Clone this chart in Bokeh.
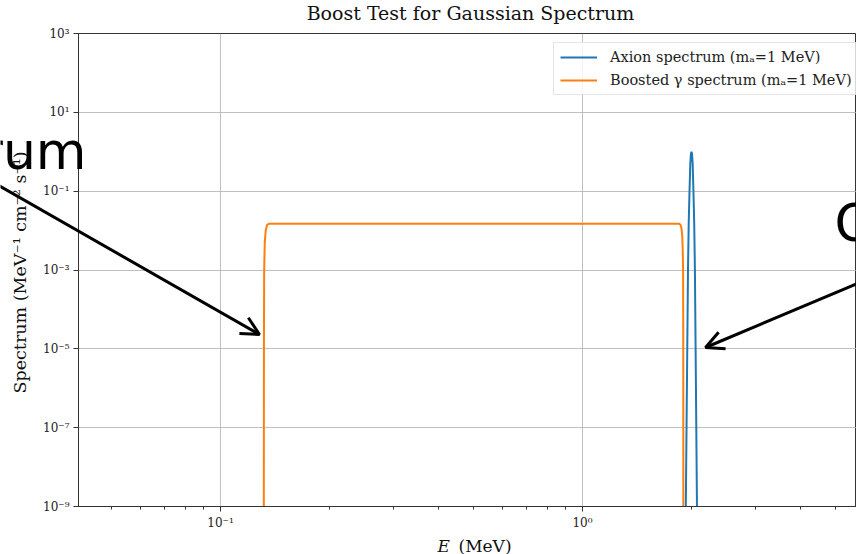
import math
from bokeh.plotting import figure
from bokeh.layouts import column
from bokeh.models import (Range1d, FixedTicker, CustomJSTickFormatter, Label, Arrow,
                          OpenHead, Legend, LegendItem)
from bokeh.embed import file_html
from bokeh.resources import INLINE

# ---------------- data ----------------
axion_E = [1.918, 1.929, 1.938, 1.947, 1.956, 1.965, 1.975, 1.985, 1.993, 2.000,
           2.007, 2.015, 2.025, 2.035, 2.044, 2.053, 2.062, 2.071, 2.082]
axion_S = [1e-12, 1e-9, 1e-7, 1e-5, 1e-3, 1.5e-2, 1e-1, 5e-1, 9e-1, 1.0,
           9e-1, 5e-1, 1e-1, 1.5e-2, 1e-3, 1e-5, 1e-7, 1e-9, 1e-12]

boost_E = [0.1315, 0.1317, 0.1318, 0.1320, 0.1325, 0.1333, 0.1345, 0.1360,
           0.2, 0.5, 1.0, 1.5, 1.850, 1.865, 1.875, 1.885, 1.892, 1.896, 1.898, 1.899, 1.900]
boost_S = [1e-12, 1e-9, 1e-5, 1e-3, 5e-3, 1.0e-2, 1.4e-2, 0.0148,
           0.0148, 0.0148, 0.0148, 0.0148, 0.0148, 0.0140, 0.0120, 0.0080, 3e-3, 1e-3, 1e-5, 1e-9, 1e-12]

x_ticks = [0.1, 1.0]
x_tick_labels = ["10⁻¹", "10⁰"]
x_minor = [0.05, 0.06, 0.07, 0.08, 0.09, 0.2, 0.3, 0.4, 0.5, 0.6, 0.7, 0.8, 0.9, 2, 3, 4, 5]
y_ticks = [1e-9, 1e-7, 1e-5, 1e-3, 1e-1, 1e1, 1e3]
y_tick_labels = ["10⁻⁹", "10⁻⁷", "10⁻⁵", "10⁻³", "10⁻¹", "10¹", "10³"]

x_lim = [0.04052, 5.713]
y_lim = [1e-9, 1e3]

title_text = "Boost Test for Gaussian Spectrum"
xlabel_var = "E"
xlabel_unit = "(MeV)"
ylabel_text = "Spectrum (MeV⁻¹ cm⁻² s⁻¹)"
legend_labels = ["Axion spectrum (mₐ=1 MeV)", "Boosted γ spectrum (mₐ=1 MeV)"]
left_text = "rum"
right_text = "O"

SERIF = "DejaVu Serif"
W, H = 856, 554

# ---------------- main plot ----------------
p = figure(width=W, height=H, x_axis_type="log", y_axis_type="log",
           x_range=Range1d(*x_lim), y_range=Range1d(*y_lim),
           output_backend="svg", toolbar_location=None,
           min_border_left=78, min_border_right=0, min_border_top=33, min_border_bottom=48)
p.frame_align = False
p.background_fill_color = "white"
p.border_fill_color = "white"
p.outline_line_color = "#333333"
p.outline_line_width = 1

def fmt(tvals, tlabels):
    return CustomJSTickFormatter(args=dict(tv=tvals, tl=tlabels), code="""
        for (let i = 0; i < tv.length; i++) {
            if (Math.abs(Math.log10(tv[i]) - Math.log10(tick)) < 1e-6) return tl[i];
        }
        return "";
    """)

p.xaxis.ticker = FixedTicker(ticks=x_ticks, minor_ticks=x_minor)
p.yaxis.ticker = FixedTicker(ticks=y_ticks, minor_ticks=[])
p.xaxis.formatter = fmt(x_ticks, x_tick_labels)
p.yaxis.formatter = fmt(y_ticks, y_tick_labels)

for ax in (p.xaxis[0], p.yaxis[0]):
    ax.axis_line_color = "#333333"
    ax.axis_line_width = 1
    ax.major_tick_line_color = "#333333"
    ax.minor_tick_line_color = "#333333"
    ax.major_tick_in = 0
    ax.major_tick_out = 5
    ax.minor_tick_in = 0
    ax.minor_tick_out = 3
    ax.major_label_text_font = SERIF
    ax.major_label_text_font_size = "12px"
    ax.major_label_text_color = "#222222"
    ax.major_label_standoff = 4

p.xgrid.grid_line_color = "#b0b0b0"
p.ygrid.grid_line_color = "#b0b0b0"
p.xgrid.grid_line_alpha = 0.8
p.ygrid.grid_line_alpha = 0.8

r1 = p.line(axion_E, axion_S, line_color="#1f77b4", line_width=2)
r2 = p.line(boost_E, boost_S, line_color="#ff7f0e", line_width=2)

legend = Legend(items=[LegendItem(label=legend_labels[0], renderers=[r1]),
                       LegendItem(label=legend_labels[1], renderers=[r2])],
                location=(475, 411))
legend.label_text_font = SERIF
legend.label_text_font_size = "14.5px"
legend.label_text_color = "#222222"
legend.glyph_width = 37
legend.glyph_height = 16
legend.label_height = 16
legend.label_standoff = 13
legend.spacing = 7
legend.padding = 6
legend.margin = 0
legend.border_line_color = "#cccccc"
legend.border_line_width = 1
legend.background_fill_alpha = 0.8
p.add_layout(legend, "center")

# ---------------- transparent overlay (page pixels) for texts & arrows ----------------
ov = figure(width=W, height=H, x_range=Range1d(0, W), y_range=Range1d(H, 0),
            output_backend="svg", toolbar_location=None,
            x_axis_location=None, y_axis_location=None, min_border=0,
            margin=(-H, 0, 0, 0))
ov.frame_align = False
ov.grid.visible = False
ov.outline_line_color = None
ov.background_fill_color = None
ov.border_fill_color = None

def olabel(x, y, text, size, font=SERIF, align="left", style="normal", color="#111111",
           angle=0.0, baseline="alphabetic"):
    ov.add_layout(Label(x=x, y=y, text=text, text_align=align, text_baseline=baseline,
                        text_font=font, text_font_size=f"{size}px", text_font_style=style,
                        text_color=color, angle=angle))

olabel(470, 12, title_text, 19, align="center")
olabel(437, 545, xlabel_var, 17, style="italic")
olabel(458, 545, xlabel_unit, 17)
olabel(19, 272, ylabel_text, 17.5, align="center", angle=math.pi / 2)
olabel(86, 150, left_text, 52, font="DejaVu Sans", align="right", color="black")
olabel(834, 222, right_text, 52, font="DejaVu Sans", color="black")

for (xs, ys, xe, ye) in ((-30, 169, 259, 334), (890, 269, 705, 347)):
    ov.add_layout(Arrow(x_start=xs, y_start=ys, x_end=xe, y_end=ye,
                        line_color="black", line_width=3,
                        end=OpenHead(size=18, line_color="black", line_width=3)))

root = column(p, ov, spacing=0)
open("out.html", "w").write(file_html(root, INLINE))
